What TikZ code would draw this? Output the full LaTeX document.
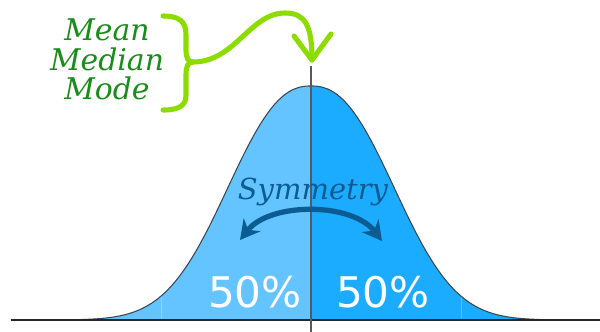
\documentclass[tikz,border=0pt]{standalone}
\usepackage{fontspec}
\setmainfont{DejaVu Serif}
\setsansfont{DejaVu Sans}
\usetikzlibrary{arrows.meta}
\definecolor{leftblue}{HTML}{64C4FF}
\definecolor{rightblue}{HTML}{1BACFF}
\definecolor{curveline}{HTML}{3C4650}
\definecolor{symblue}{HTML}{0C5C94}
\definecolor{textgreen}{HTML}{1A8C1A}
\definecolor{bracegreen}{HTML}{8CDC00}
\newcommand{\bellY}[1]{320-234*exp(-pow((abs(#1)+0.01)/105.6,2.35))}

\begin{document}
\begin{tikzpicture}[x=0.02cm, y=-0.02cm,
    mmm/.style={text=textgreen, font=\fontsize{17}{17}\selectfont\itshape, anchor=base, inner sep=0pt},
    pct/.style={text=white, font=\sffamily\fontsize{24}{24}\selectfont, anchor=base, inner sep=0pt},
    greenline/.style={bracegreen, line width=2.9pt, line cap=round, line join=round}]
    \useasboundingbox (0,0) rectangle (600,332);

    % Bell curve
    \fill[leftblue] (88,320) -- plot[domain=-223:0, samples=80, variable=\d] ({311+\d},{\bellY{\d}}) -- (311,320) -- cycle;
    \fill[rightblue] (311,320) -- plot[domain=0:224, samples=80, variable=\d] ({311+\d},{\bellY{\d}}) -- (535,320) -- cycle;
    \draw[white, opacity=0.25, line width=0.4pt] (161,320) -- (161,{\bellY{-150}});
    \draw[white, opacity=0.25, line width=0.4pt] (461,320) -- (461,{\bellY{150}});
    \draw[curveline, line width=0.6pt] plot[domain=-300:289, samples=200, variable=\d] ({311+\d},{\bellY{\d}});

    % Axes
    \coordinate (base0) at (11,320);
    \coordinate (base1) at (600,320);
    \coordinate (axTop) at (311,66);
    \coordinate (axBot) at (311,332);
    \draw[black!85, line width=1.2pt] (base0) -- (base1);
    \draw[black!65, line width=0.8pt] (axTop) -- (axBot);

    % Halves
    \node[pct] (left50) at (255,307) {50\%};
    \node[pct] (right50) at (383,307) {50\%};

    % Symmetry
    \node[text=symblue, font=\fontsize{16.5}{16.5}\selectfont\itshape, anchor=base, inner sep=0pt] (sym) at (313,199) {Symmetry};
    \coordinate (symL) at (240,240);
    \coordinate (symR) at (382,241);
    \draw[symblue, line width=3pt, {Stealth[length=11pt,width=12pt]}-{Stealth[length=11pt,width=12pt]}] (symL) .. controls (270,202) and (352,202) .. (symR);

    % Mean, median, mode
    \node[mmm] (mean) at (107,40) {Mean};
    \node[mmm] (median) at (107,70) {Median};
    \node[mmm] (mode) at (107,99) {Mode};
    \coordinate (braceTip) at (193,62);
    \coordinate (peakTip) at (312,60);
    \draw[greenline] (163,16) .. controls (180,16) and (186,22) .. (186,35) -- (186,50) .. controls (186,58) and (188,62) .. (braceTip);
    \draw[greenline] (braceTip) .. controls (188,62) and (186,66) .. (186,75) -- (186,95) .. controls (186,105) and (180,110) .. (163,110);
    \draw[greenline] (braceTip) .. controls (235,62) and (250,13) .. (285,13) .. controls (305,13) and (312,25) .. (peakTip);
    \draw[greenline] (294,36) -- (peakTip) -- (331,34);
\end{tikzpicture}
\end{document}
